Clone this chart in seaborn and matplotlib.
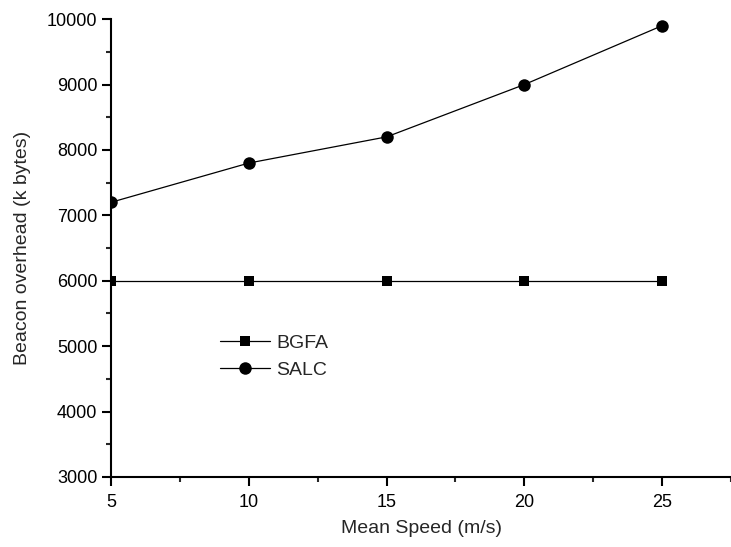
import pandas as pd
import seaborn as sns
import matplotlib.pyplot as plt
from matplotlib.ticker import MultipleLocator

# Data
speeds = [5, 10, 15, 20, 25]
bgfa = [6000, 6000, 6000, 6000, 6000]
salc = [7200, 7800, 8200, 9000, 9900]

df = pd.DataFrame({"speed": speeds * 2,
                   "overhead": bgfa + salc,
                   "method": ["BGFA"] * 5 + ["SALC"] * 5})

sns.set_style("ticks")
plt.rcParams['font.family'] = ['Liberation Sans', 'DejaVu Sans']

fig = plt.figure(figsize=(7.31, 5.47), dpi=100)
ax = fig.add_axes([0.152, 0.128, 0.848, 0.837])

sns.lineplot(data=df, x="speed", y="overhead", hue="method", style="method",
             markers={"BGFA": "s", "SALC": "o"}, dashes=False,
             palette={"BGFA": "black", "SALC": "black"},
             linewidth=0.9, markersize=9, markeredgewidth=0, ax=ax)

ax.set_xlim(5, 27.5)
ax.set_ylim(3000, 10000)
ax.xaxis.set_major_locator(MultipleLocator(5))
ax.xaxis.set_minor_locator(MultipleLocator(2.5))
ax.yaxis.set_major_locator(MultipleLocator(1000))
ax.yaxis.set_minor_locator(MultipleLocator(500))
ax.tick_params(which="major", direction="out", length=6.5, width=1.5,
               labelsize=13, colors="black", pad=3.5)
ax.tick_params(axis="x", which="major", pad=5.5)
ax.tick_params(which="minor", direction="out", length=3.5, width=1.5)
for s in ["top", "right"]:
    ax.spines[s].set_visible(False)
for s in ["left", "bottom"]:
    ax.spines[s].set_linewidth(1.5)
    ax.spines[s].set_color("black")

ax.set_xlabel("Mean Speed (m/s)", fontsize=14, labelpad=7)
ax.set_ylabel("Beacon overhead (k bytes)", fontsize=14, labelpad=11)

# BGFA squares are a bit smaller than the circles
ax.lines[0].set_markersize(7.5)
leg = ax.legend(frameon=False, fontsize=14, loc="center left",
                bbox_to_anchor=(0.147, 0.263), handlelength=2.57,
                labelspacing=0.5, handletextpad=0.35)
for h in leg.legend_handles:
    h.set_linewidth(0.9)
leg.legend_handles[0].set_markersize(7.5)
leg.legend_handles[1].set_markersize(9)

fig.savefig("out.png", dpi=100)
